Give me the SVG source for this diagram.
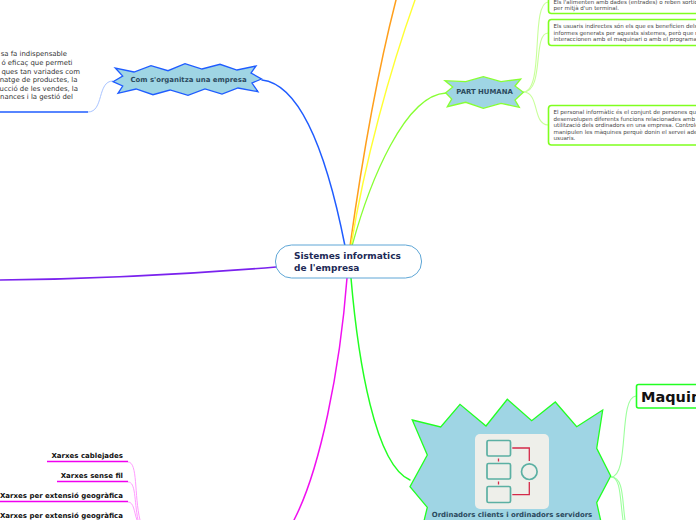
<svg xmlns="http://www.w3.org/2000/svg" width="696" height="520" viewBox="0 0 696 520">
<style>
text{font-family:"DejaVu Sans","Liberation Sans",sans-serif}
.c{fill:none;stroke-linecap:round}
.star{fill:#9fd5e4;stroke-width:1.3;stroke-linejoin:miter}
.lab{font-weight:bold;fill:#2b4a5e;text-anchor:middle}
.small{font-size:5.55px;fill:#444}
.para{font-size:6.9px;fill:#333;text-anchor:end}
.box{fill:#fff;stroke:#7fff1f;stroke-width:1.6}
.xar{font-size:7px;font-weight:bold;fill:#111;text-anchor:end}
.ul{stroke:#f000f0;stroke-width:1.5;fill:none}
.sm{stroke:#ff9cff;stroke-width:1;fill:none}
.sg{stroke:#c8ff9a;stroke-width:1.1;fill:none}
.sg2{stroke:#9dff9d;stroke-width:1.1;fill:none}
</style>
<rect width="696" height="520" fill="#fff"/>
<g id="connectors">
<path class="c" d="M345 246C330 170 305 85 262 80" stroke="#1f5cff" stroke-width="1.5"/>
<path class="c" d="M276 267C190 274 90 279 0 280" stroke="#7a22ee" stroke-width="1.6"/>
<path class="c" d="M350 246C362 160 378 70 396 0" stroke="#ff9f1c" stroke-width="1.5"/>
<path class="c" d="M351 246C365 160 390 70 415 0" stroke="#ffff33" stroke-width="1.4"/>
<path class="c" d="M352 246C370 180 405 95 446 93" stroke="#88ff33" stroke-width="1.3"/>
<path class="c" d="M351 278C358 360 375 465 410 480" stroke="#22ff22" stroke-width="1.5"/>
<path class="c" d="M347 278C340 370 320 470 294 520" stroke="#f010f0" stroke-width="1.5"/>
<path class="sg" d="M523 92C545 92 530 4 548 2"/>
<path class="sg" d="M523 92C545 92 532 34 548 33"/>
<path class="sg" d="M523 92C540 92 532 124 548 125"/>
<path d="M113 81C97 81 104 112 88 112" fill="none" stroke="#a9c4ff" stroke-width="1"/>
<path d="M0 112H88" fill="none" stroke="#1f5cff" stroke-width="1.5"/>
<path class="sg2" d="M611 477C630 477 618 397 636 396"/>
<path class="sg2" d="M611 477C621 477 620 500 623 520"/>
<path class="sg2" d="M611 477C624 477 622 500 625 520"/>
<path class="sm" d="M128 462C138 462 134 495 140 520"/>
<path class="sm" d="M128 482C136 482 134 500 138 520"/>
<path class="sm" d="M128 502C134 502 134 512 137 520"/>
<path class="ul" d="M47 461.5H128M57 481.5H128M0 501.5H128"/>
</g>
<g id="node-center">
<rect x="275.5" y="245" width="146" height="33" rx="16" fill="#fff" stroke="#5ea6d6" stroke-width="1"/>
<text x="294" y="259" font-size="9" font-weight="bold" fill="#1d2a56">Sistemes informatics</text>
<text x="294" y="270.500" font-size="9" font-weight="bold" fill="#1d2a56">de l'empresa</text>
</g>
<g id="node-organitza">
<polygon class="star" stroke="#1f5cff" points="113,81.700 122.700,76 115.300,68 134,72 151,65.700 168,70.700 185,63.700 202,69 220,64.300 237,70 256,66 251,73 261.500,79 252,83 258,91.700 238,88 222,94 205,89 188,95.300 170,90 153,94.700 136,89 118,93.300 122.700,86"/>
<text class="lab" x="188.500" y="82" font-size="6.950">Com s'organitza una empresa</text>
</g>
<g id="node-organitza-text">
<text class="para" x="67" y="56">sa fa indispensable</text>
<text class="para" x="72.500" y="65">ó eficaç que permeti</text>
<text class="para" x="80" y="73.500">ques tan variades com</text>
<text class="para" x="77.500" y="82">natge de productes, la</text>
<text class="para" x="78" y="90.500">ucció de les vendes, la</text>
<text class="para" x="73" y="99">nances i la gestió del</text>
</g>
<g id="node-part-humana">
<polygon class="star" stroke="#88ff33" points="445,80.700 452.700,87 445.700,92.700 451.700,99 447.300,106.700 465.700,102.300 483.300,108.300 501,103.300 519.300,107.300 515,100 523.300,92.300 515,86 520.700,79 501,81.700 483.300,76.700 465.700,81.700"/>
<text class="lab" x="484.500" y="94" font-size="6.900">PART HUMANA</text>
</g>
<g id="node-usuaris-directes">
<rect class="box" x="548.500" y="-20" width="170" height="33.500" rx="3"/>
<text class="small" x="553.500" y="3.500">Els l'alimenten amb dades (entrades) o reben sortides</text>
<text class="small" x="553.500" y="9.500">per mitjà d'un terminal.</text>
</g>
<g id="node-usuaris-indirectes">
<rect class="box" x="548.500" y="19.500" width="170" height="26" rx="3"/>
<text class="small" x="553.500" y="28">Els usuaris indirectes són els que es beneficien dels</text>
<text class="small" x="553.500" y="35">informes generats per aquests sistemes, però que n</text>
<text class="small" x="553.500" y="41">interaccionen amb el maquinari o amb el programa</text>
</g>
<g id="node-personal">
<rect class="box" x="548.500" y="105.500" width="170" height="39.500" rx="3"/>
<text class="small" x="553.500" y="114">El personal informàtic és el conjunt de persones qu</text>
<text class="small" x="553.500" y="121">desenvolupen diferents funcions relacionades amb l</text>
<text class="small" x="553.500" y="127">utilització dels ordinadors en una empresa. Controle</text>
<text class="small" x="553.500" y="134">manipulen les màquines perquè donin el servei ade</text>
<text class="small" x="553.500" y="140">usuaris.</text>
</g>
<g id="node-ordinadors">
<polygon class="star" stroke="#22ff22" points="412.300,420 440.700,427 460,404.300 486,426 507.300,399.300 531.700,420.700 555.300,402 576.700,426.700 602.700,410 596.700,448.300 610.700,476 596.700,502.700 601.700,525 423,525 427.300,507.300 410,486.700 427.300,455"/>
<rect x="475" y="434" width="74" height="75" rx="5" fill="#eeefea"/>
<g fill="none" stroke="#5bb0a3" stroke-width="1.700">
<rect x="487" y="440.500" width="23.500" height="15.500" rx="1.500"/>
<rect x="487" y="463.500" width="23.500" height="15.500" rx="1.500"/>
<rect x="487" y="486.500" width="23.500" height="16" rx="1.500"/>
<circle cx="529.300" cy="471.700" r="7.800"/>
</g>
<path d="M512.300 448H529.300V461M512.300 494.700H529.300V482M498.500 458.500V461.500M498.500 481.500V484.500" fill="none" stroke="#d42a4a" stroke-width="1.300"/>
<text class="lab" x="512" y="517" font-size="6.950">Ordinadors clients i ordinadors servidors</text>
</g>
<g id="node-maquinari">
<rect x="636.500" y="384.500" width="90" height="23.500" rx="2" fill="#fff" stroke="#22ff22" stroke-width="1.600"/>
<text x="641" y="402" font-size="14.500" font-weight="bold" fill="#111">Maquinari</text>
</g>
<g id="node-xarxes">
<text class="xar" x="123" y="457.500">Xarxes cablejades</text>
<text class="xar" x="123" y="477.500">Xarxes sense fil</text>
<text class="xar" x="123" y="497.500">Xarxes per extensió geogràfica</text>
<text class="xar" x="123" y="517.500">Xarxes per extensió geogràfica</text>
</g>
</svg>
